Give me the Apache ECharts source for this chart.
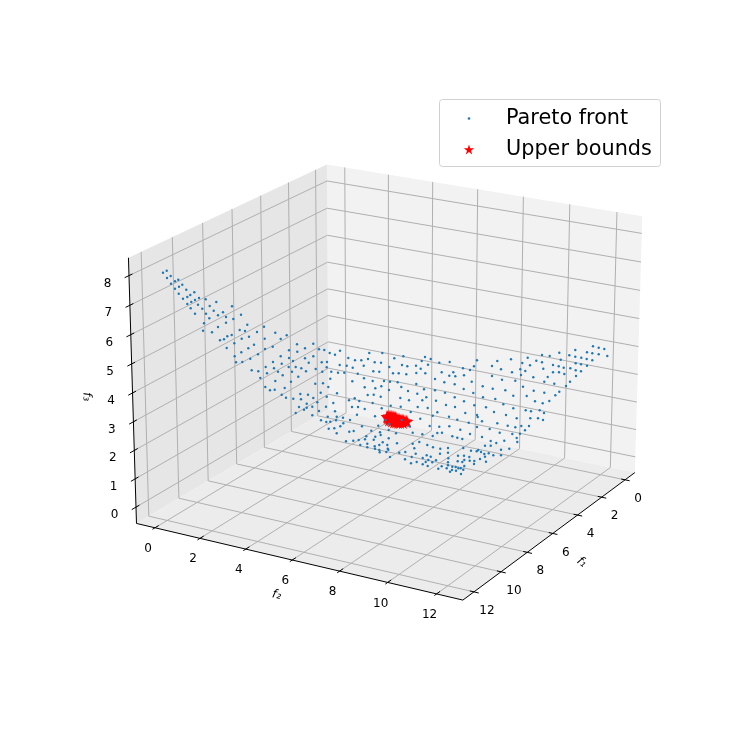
<!DOCTYPE html>
<html>
<head>
<meta charset="utf-8">
<title>Pareto front</title>
<style>
  html, body { margin: 0; padding: 0; background: #fff; }
  #chart { width: 747px; height: 747px; }
</style>
<script src="https://cdn.jsdelivr.net/npm/echarts@6/dist/echarts.min.js"></script>
</head>
<body>
<div id="chart"></div>
<script>
// tick labels of the three axes
const f1Ticks = [0, 2, 4, 6, 8, 10, 12]
const f2Ticks = [0, 2, 4, 6, 8, 10, 12]
const f3Ticks = [0, 1, 2, 3, 4, 5, 6, 7, 8]

// box limits
const f1Lim = [-0.85, 12.8]
const f2Lim = [-0.83, 13.06]
const f3Lim = [-0.58, 8.6]

const paretoFront = [
  [163,272.7],[166.7,270.7],[170.7,276],[167,278],[171,283.7],[175,281.3],[178.3,279.7],[175,288.7],[179,286.7],[182.3,284.7],
  [186.3,289.7],[178.7,293.7],[183,298.7],[187.3,297],[190.3,295],[194.3,292.3],[187.3,304],[191.3,302],[195,300],[199,298],
  [205.7,299.3],[198,304.7],[190.7,308.3],[202.3,308.7],[209.7,306],[216.3,302],[213.7,310.7],[223,312.3],[232,306.3],[241,314.7],
  [195,313.7],[206,313.7],[218,315.3],[209.3,318.3],[226,317],[233.3,319],[204,323.3],[226,322.7],[218,327],[247.3,324.7],
  [203,330.7],[212,332.3],[239.7,330],[245,331],[257,332],[264,326.7],[231.7,335],[227.3,336.3],[224,339.3],[220,340.3],
  [249,336.7],[241.7,338.7],[264.7,338.7],[234.3,343.3],[254,344.7],[226.7,348],[248.3,348.3],[265,349],[241.3,352.3],[258,354.3],
  [234.7,356.3],[250.3,358.7],
  [275.3,332.7],[280.7,339],[286.7,335.3],[272.7,346.7],[297,344.3],[313.3,343.7],[289,350.3],[305,348.3],[297.3,351.7],[319,349.3],
  [324.3,350],[340,350.7],[329.7,353],[335,354.7],[280.7,356.3],[289,358],[305,358.3],[313.3,356.3],[293,361],[236,362.3],
  [242.3,362],[273,362],[281.7,363.7],[308.7,362.7],[321.7,362.3],[327,362],[265.7,367],[274,368.3],[288.7,367],[295.7,367],
  [301.3,368.3],[315.7,369],[339.7,365],[278,371.7],[292,371.7],[306,371.3],[322.3,371.7],[326.7,367.3],[331.3,371.7],[338,372.7],
  [344.3,372.7],[251.7,370.3],[258.3,371.3],[267,373.3],[282.7,375.3],[298.3,376.7],[260.3,378],[330.3,378.7],[275.3,381],[291,381.7],
  [315.3,383.7],[323,383.3],[265.3,387],[284.7,388],[328.3,387],[270,390.3],[274.7,389.7],[281.7,394.7],[300.3,394],[308,394.7],
  [320.7,392.7],[337,393.3],[286,397.7],[293.3,398.7],[301,399.3],[313.3,398],[326.7,396.7],[306.7,403.7],[317.3,402.3],[333.3,403],
  [299,407],[312.3,406.7],[326,406.7],[306.7,407.7],[304,409.7],[319,411],[335,411.3],[295.7,413],[312.3,415.3],[327.7,416.7],
  [336.7,416.7],
  [369.3,353],[382.3,353],[348.3,358],[355,360.3],[361.3,360.3],[368,359],[394.3,358.3],[403.3,356.3],[374.7,362.3],[381,362.7],
  [425,357],[430.7,359],[421.7,361],[439.3,362.7],[449.7,362],[346.7,365.7],[352.7,367.7],[363.7,365.7],[389.3,367],[402,365],
  [407.3,366.3],[416,365.7],[428,364.7],[420.7,368.7],[373.3,371.3],[379.3,371.7],[357.7,373.7],[393,373.3],[398.7,373.3],[406.3,374.3],
  [416.3,373],[425.3,373.3],[441.7,372.3],[453.3,372.3],[449.3,375.7],[455.3,376.3],[364,378.3],[435,379],[352.3,381.3],[372.7,381],
  [384,381],[390,381.7],[397.7,382.3],[444.3,382.3],[454.7,384.3],[416.3,384],[364.7,387.3],[375.3,388.3],[381.3,386.3],[401.3,387],
  [389,390],[408,391],[424,389.3],[435,390.3],[445,392.7],[367.7,395],[373.7,394.7],[380.7,396.7],[417.3,393.7],[426.3,397.3],
  [400.3,398],[349,400.3],[354.7,398.3],[359.3,401],[409,400.3],[422.3,400.3],[436,400.7],[454.7,397.3],[372.7,403],[446,405],
  [390.7,405.7],[400.7,406.7],[352,407],[358,407],[364.7,409],[381.7,408.3],[417.7,407],[427.7,408],[455,407],
  [593,346.3],[598.7,347.7],[604.3,349],[575.3,350],[587,352.3],[592.3,353.3],[598.7,354.3],[607.3,356],[559.3,352.7],[569.3,355.3],
  [575.3,356.7],[581.3,357.7],[586.7,359],[592.3,360.3],[542,355],[549.7,356],[527.7,357.7],[511,359.3],[560.7,359.7],[477,360.3],
  [497.3,361],[536.3,360.7],[542,362.3],[522.3,363],[575.7,363.3],[581,364.3],[587,365.7],[553,365],[530,365.3],[558.7,366.3],
  [563.7,367.7],[570.3,368.3],[474,366.3],[492,366],[463,368.3],[470,370],[501,369.3],[520.3,369.3],[543.3,368.7],[575.7,370.3],
  [581,371.3],[512,372.3],[525.3,371],[559,372.3],[553,372.3],[564.3,374],[521,375],[464,375.3],[492,376],[576,376],
  [533.3,377.3],[547.7,377],[502,379.7],[515.3,380.7],[544.3,381.7],[570,381.7],[471.7,381.7],[554.3,383.7],[482.7,386.3],[523,386.7],
  [566,386],[492.7,388.7],[463.7,389],[505.3,390.3],[533.7,390.7],[559.3,391.7],[544.3,392.7],[473.3,393],[513.3,395.7],[555.3,395.3],
  [526.7,396],[483,397.3],[495.3,399],[535,401.3],[549.3,401],[464,401.3],[542.7,403.3],[503.3,404.3],[474.3,405.3],[513.3,408.3],
  [486,407.3],[525.7,410.3],[531,411.3],[539.7,410.3],[544,413],[494,412],[465.3,413],[506,415],[477,415],[516.7,418.3],
  [530.3,418.3],[538,418.3],[543,420],[457.3,419.7],[482,421.3],[468.7,422.7],[497.3,423.3],[507.7,425.7],[515.3,427.3],[521.3,426],
  [529,426],[477,427],[525,430.3],[489.7,429],[460.3,429.7],[499.7,432.7],[512.3,434],[520,433.7],[470,434],[482,437],
  [516.7,438],[457.3,437.7],[462.3,439],
  [343,417.7],[357,414.7],[375,416.3],[321,420.3],[326.3,422],[330.3,421.7],[336,420.3],[350,420],[343.3,423.3],[340.3,426.3],
  [334.3,428.3],[328.7,428.7],[362,426.3],[378.3,425.7],[336.7,433.3],[353.7,431],[349.3,431.7],[371.3,430.7],[380,432.3],[388.7,430],
  [366.3,436.3],[375.3,436.7],[380.7,435],[346,441.3],[353.3,440.7],[358.7,440],[365,439.3],[373.7,439.7],[388.7,438.3],[360.3,445],
  [367.3,443.7],[374.7,446.3],[379.3,445],[387.3,445],[367.3,447.3],[375,448.7],[379.3,450],[386.3,452],[387.7,448.7],[379.7,452.3],
  [410.7,412],[420.3,418.7],[432.7,415.7],[437.3,412.3],[449,416.7],[477.7,417],[389.3,424],[409.7,426.3],[429.7,426],[439.3,426.7],
  [449.3,426.3],[396,433.3],[412.7,432.7],[422.3,434.3],[432.7,436],[437.3,433],[442,432.7],[452.3,436.3],[382.7,442.3],[397,443.3],
  [412.7,443.7],[419.3,442],[427.3,445],[433,447.3],[440.3,448.7],[448,448],[463.3,448],[471,450.7],[478.3,450],[485,445.7],
  [388.3,449.7],[399.3,452.7],[405.3,452],[414.3,448.3],[415.7,453.7],[411.7,457],[426.7,455.3],[430.7,456.7],[448,452.7],[440,453.7],
  [390,457],[405,459.3],[411,463.3],[416.7,462],[422.7,458],[425.7,462],[428.3,460],[432.3,462.3],[436,460.3],[448.3,458.3],
  [448,462.3],[457.7,461.3],[464.3,460],[469.7,460.7],[474.3,461],[422.7,464.3],[427.7,466],[438.3,468.7],[441.7,466.3],[446.7,468.3],
  [452.3,466.7],[455.7,467],[458.3,468.3],[464.3,466],[448,465.3],[450,471.7],[456,470.7],[463.3,469.7],[461,474],
  [464,455.7],[469.3,457],[474,464],[458,455.7],[462.3,462],[460.7,468.3],[452,470],[480,459],[486,461.7],[485,456.7],
  [517.3,442],[504.3,440.7],[490.7,441],[496.3,443],[490.7,445.7],[501,449.7],[509.3,448.7],[476.7,451.3],[481,452],[484.3,454],
  [488.7,453.3],[493.3,455.3],[501,455.3],
  [385.5,420],[401.7,420]
]

const upperBounds = [
  [387,416.5],[389,416],[391,416],[393,416.5],[395,417],[388,418],[390,417.5],[392,418],[394,418],[396,418],
  [389,420],[391,420],[393,420],[395,420],[397,419],[399,419],[401,420],[403,420],[392,421],[394,422],
  [396,422],[398,421],[400,421],[402,421],[404,421],[406,421],[407,421.5],[398,422.5],[400,422.5],[403,422.5],
  [387.5,417]
]

const starPath = 'path://M0,-1L0.2245,-0.309L0.951,-0.309L0.363,0.118L0.588,0.809L0,0.382L-0.588,0.809L-0.363,0.118L-0.951,-0.309L-0.2245,-0.309Z'

// same camera as the original figure: elev 20, azim 30, box 4:4:3, dist 10
const elev = 20 * Math.PI / 180
const azim = 30 * Math.PI / 180
const boxScale = 1.8294640721620434 * 25 / 24 / Math.sqrt(41)
const box = [4 * boxScale, 4 * boxScale, 3 * boxScale]

function project(f1, f2, f3) {
  const x = ((f1 - f1Lim[0]) / (f1Lim[1] - f1Lim[0]) - 0.5) * box[0]
  const y = ((f2 - f2Lim[0]) / (f2Lim[1] - f2Lim[0]) - 0.5) * box[1]
  const z = ((f3 - f3Lim[0]) / (f3Lim[1] - f3Lim[0]) - 0.5) * box[2]
  const u = -Math.sin(azim) * x + Math.cos(azim) * y
  const v = -Math.sin(elev) * Math.cos(azim) * x - Math.sin(elev) * Math.sin(azim) * y + Math.cos(elev) * z
  const d = Math.cos(elev) * Math.cos(azim) * x + Math.cos(elev) * Math.sin(azim) * y + Math.sin(elev) * z
  const k = 10 / (10 - d)
  return [390.7 + 311 * u * k, 369 - 311 * v * k]
}

const [x0, x1] = f1Lim
const [y0, y1] = f2Lim
const [z0, z1] = f3Lim

const panes = [
  { color: '#f2f2f2', pts: [project(x0, y0, z0), project(x0, y1, z0), project(x0, y1, z1), project(x0, y0, z1)] },
  { color: '#e6e6e6', pts: [project(x0, y0, z0), project(x1, y0, z0), project(x1, y0, z1), project(x0, y0, z1)] },
  { color: '#ececec', pts: [project(x0, y0, z0), project(x1, y0, z0), project(x1, y1, z0), project(x0, y1, z0)] }
]

// polylines joined with a gap between them
function joinLines(lines) {
  const out = []
  lines.forEach(line => {
    line.forEach(p => out.push(p))
    out.push(['-', '-'])
  })
  return out
}

const gridLines = joinLines([
  ...f1Ticks.map(t => [project(t, y1, z0), project(t, y0, z0), project(t, y0, z1)]),
  ...f2Ticks.map(t => [project(x1, t, z0), project(x0, t, z0), project(x0, t, z1)]),
  ...f3Ticks.map(t => [project(x1, y0, t), project(x0, y0, t), project(x0, y1, t)])
])

const dx = (x1 - x0)
const dy = (y1 - y0)
const axisLines = joinLines([
  [project(x1, y0, z1), project(x1, y0, z0), project(x1, y1, z0), project(x0, y1, z0)],
  ...f1Ticks.map(t => [project(t, y1 - 0.012 * dy, z0), project(t, y1 + 0.014 * dy, z0)]),
  ...f2Ticks.map(t => [project(x1 - 0.018 * dx, t, z0), project(x1 + 0.012 * dx, t, z0)]),
  ...f3Ticks.map(t => [project(x1 - 0.016 * dx, y0, t), project(x1 + 0.02 * dx, y0, t)])
])

function lineSeries(data, color, z) {
  return {
    type: 'line',
    data: data,
    z: z,
    silent: true,
    symbol: 'none',
    connectNulls: false,
    lineStyle: { color: color, width: 1 }
  }
}

function textSeries(points, texts, shift, size, rotate) {
  return {
    type: 'scatter',
    symbolSize: 0,
    silent: true,
    z: 3,
    data: points.map((p, i) => [p[0] + shift[0], p[1] + shift[1], texts[i]]),
    itemStyle: { opacity: 1 },
    label: {
      show: true,
      position: 'inside',
      rotate: rotate || 0,
      color: '#000',
      opacity: 1,
      fontFamily: 'DejaVu Sans',
      fontSize: size,
      fontStyle: rotate ? 'italic' : 'normal',
      align: 'center',
      verticalAlign: 'middle',
      formatter: p => p.data[2]
    }
  }
}

const chart = echarts.init(document.getElementById('chart'), null, { renderer: 'canvas' })
chart.setOption({
  animation: false,
  tooltip: { show: false },
  grid: { left: 0, right: 0, top: 0, bottom: 0 },
  xAxis: { type: 'value', min: 0, max: 747, show: false },
  yAxis: { type: 'value', min: 0, max: 747, inverse: true, show: false },
  legend: [
    {
      data: [{ name: 'Pareto front', icon: 'circle' }],
      left: 467.7,
      top: 108,
      padding: 0,
      itemWidth: 2.6,
      itemHeight: 2.6,
      selectedMode: false,
      z: 6,
      textStyle: { fontFamily: 'DejaVu Sans', fontSize: 20.8, color: '#000', padding: [0, 0, 0, 30.7] }
    },
    {
      data: [{ name: 'Upper bounds', icon: starPath }],
      left: 463.8,
      top: 139,
      padding: 0,
      itemWidth: 10.4,
      itemHeight: 10.4,
      selectedMode: false,
      z: 6,
      textStyle: { fontFamily: 'DejaVu Sans', fontSize: 20.8, color: '#000', padding: [0, 0, 0, 26.8] }
    }
  ],
  graphic: [{
    type: 'rect',
    z: 5,
    silent: true,
    shape: { x: 439.5, y: 99.5, width: 221, height: 67, r: 3 },
    style: { fill: 'rgba(255,255,255,0.8)', stroke: '#d0d0d0', lineWidth: 1 }
  }],
  series: [
    {
      type: 'custom',
      silent: true,
      z: 0,
      data: panes.map((p, i) => [i]),
      renderItem: (params, api) => {
        const pane = panes[params.dataIndex]
        return {
          type: 'polygon',
          shape: { points: pane.pts.map(p => api.coord(p)) },
          style: { fill: pane.color }
        }
      }
    },
    lineSeries(gridLines, '#b0b0b0', 1),
    lineSeries(axisLines, '#000000', 2),
    textSeries(f1Ticks.map(t => project(t, y1, z0)), f1Ticks, [13, 19], 12),
    textSeries(f2Ticks.map(t => project(x1, t, z0)), f2Ticks, [-7, 21], 12),
    textSeries(f3Ticks.map(t => project(x1, y0, t)), f3Ticks, [-21.5, 7.8], 12),
    textSeries([project(5.975, y1, z0)], ['f\u2081'], [28.7, 29.1], 12, -38),
    textSeries([project(x1, 6.115, z0)], ['f\u2082'], [-18.3, 34.4], 12, -13),
    textSeries([project(x1, y0, 4)], ['f\u2083'], [-45.8, 3.7], 12, -88),
    {
      name: 'Pareto front',
      type: 'scatter',
      data: paretoFront,
      z: 5,
      silent: true,
      symbol: 'circle',
      symbolSize: 2.4,
      itemStyle: { color: '#1f77b4', opacity: 1 }
    },
    {
      name: 'Upper bounds',
      type: 'scatter',
      data: upperBounds,
      z: 4,
      silent: true,
      symbol: starPath,
      symbolSize: 13,
      itemStyle: { color: '#ff0000', opacity: 1 }
    }
  ]
})
</script>
</body>
</html>
